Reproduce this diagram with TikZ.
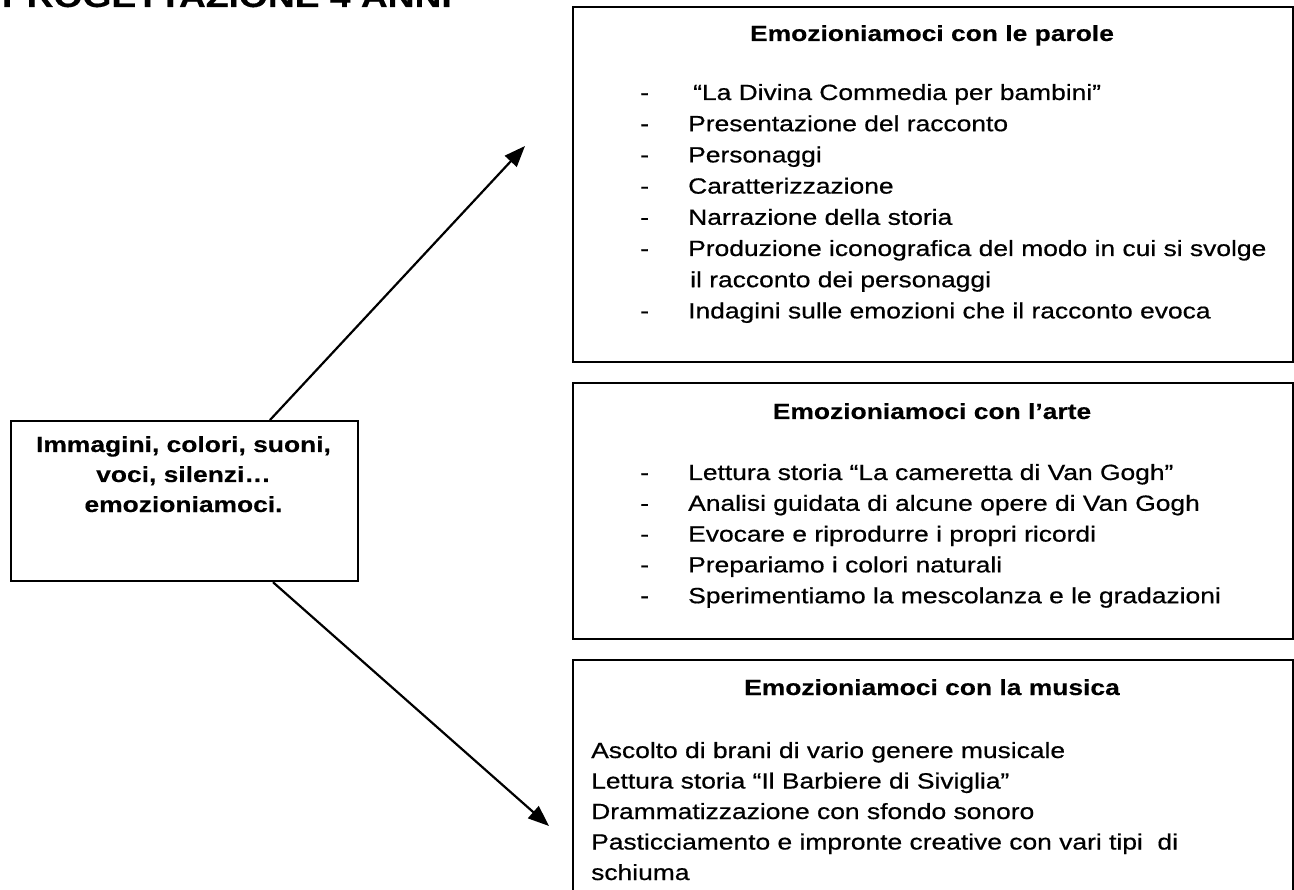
\documentclass[tikz,border=0pt]{standalone}
\usepackage{fontspec}
\setmainfont{Liberation Sans}[FakeStretch=1.2,
  UprightFeatures={FakeBold=0.6},BoldFeatures={FakeBold=0.3}]
\usetikzlibrary{arrows.meta}
\begin{document}
\begin{tikzpicture}[x=1pt,y=-1pt,
  frame/.style={draw=black,line width=2.2pt,inner sep=0pt,anchor=north west},
  body/.style={inner sep=0pt,anchor=base west,font=\fontsize{22pt}{26pt}\selectfont},
  head/.style={inner sep=0pt,anchor=base,font=\fontsize{22pt}{26pt}\selectfont\bfseries},
  link/.style={line width=2.2pt,-{Triangle[length=21pt,width=16pt]}}]
\clip (0,0) rectangle (1294,890);
\fill[white] (0,0) rectangle (1294,890);

% title, partly cut by the page edge
\node[inner sep=0pt,anchor=base east,font=\fontsize{31pt}{36pt}\selectfont\bfseries]
  (title) at (452,7) {PROGETTAZIONE 4 ANNI};

% central box
\node[frame,minimum width=347pt,minimum height=160pt] (core) at (10,420) {};
\node[head] (c1) at (183.5,452) {Immagini, colori, suoni,};
\node[head] (c2) at (183.5,482) {voci, silenzi…};
\node[head] (c3) at (183.5,512) {emozioniamoci.};

% the three activity boxes
\node[frame,minimum width=720pt,minimum height=355pt] (parole) at (572,6) {};
\node[frame,minimum width=720pt,minimum height=256pt] (arte) at (572,382) {};
\node[frame,minimum width=720pt,minimum height=300pt] (musica) at (572,659) {};

\node[head] (h1) at (932,41) {Emozioniamoci con le parole};
\node[head] (h2) at (932,419) {Emozioniamoci con l’arte};
\node[head] (h3) at (932,695) {Emozioniamoci con la musica};

% words
\foreach \t [count=\i from 0] in {{\hspace*{5pt}“La Divina Commedia per bambini”},
  {Presentazione del racconto},{Personaggi},{Caratterizzazione},
  {Narrazione della storia},{Produzione iconografica del modo in cui si svolge},
  {\hspace*{2pt}il racconto dei personaggi},{Indagini sulle emozioni che il racconto evoca}}
  \node[body] (pt\i) at (688,{100+31.2*\i}) {\t};
\foreach \i in {0,1,2,3,4,5,7}
  \node[body] (pd\i) at (640,{100+31.2*\i}) {-};

% art
\foreach \t [count=\i from 0] in {{Lettura storia “La cameretta di Van Gogh”},
  {Analisi guidata di alcune opere di Van Gogh},{Evocare e riprodurre i propri ricordi},
  {Prepariamo i colori naturali},{Sperimentiamo la mescolanza e le gradazioni}}
  {\node[body] (at\i) at (688,{480+30.8*\i}) {\t};
   \node[body] (ad\i) at (640,{480+30.8*\i}) {-};}

% music
\foreach \t [count=\i from 0] in {{Ascolto di brani di vario genere musicale},
  {Lettura storia “Il Barbiere di Siviglia”},{Drammatizzazione con sfondo sonoro},
  {Pasticciamento e impronte creative con vari tipi\ \ di},{schiuma}}
  \node[body] (mt\i) at (591,{758+30.5*\i}) {\t};

% connectors
\coordinate (tipA) at (525,146);
\coordinate (tipB) at (549,826);
\draw[link] ([xshift=260pt]core.north west) -- (tipA);
\draw[link] ([xshift=263pt]core.south west) -- (tipB);
\end{tikzpicture}
\end{document}
